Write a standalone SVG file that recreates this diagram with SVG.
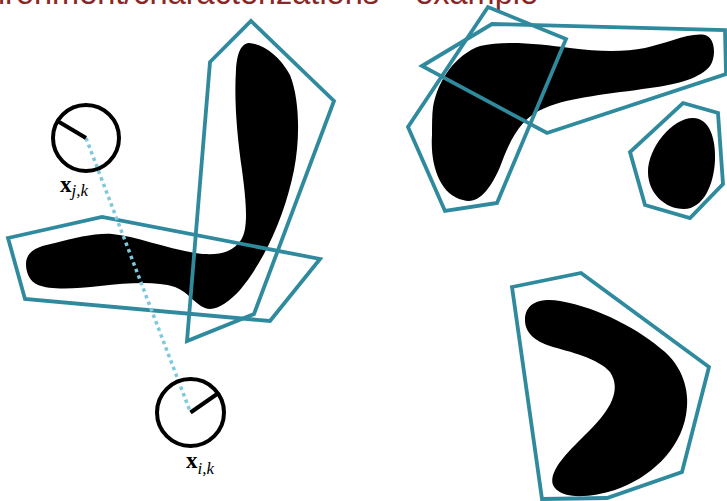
<svg xmlns="http://www.w3.org/2000/svg" width="727" height="501" viewBox="0 0 727 501">
<style>
.hull{fill:none;stroke:#2f8a9e;stroke-width:3.8;stroke-linejoin:miter}
.blob{fill:#000}
.ring{fill:none;stroke:#000;stroke-width:4}
.rad{stroke:#000;stroke-width:4}
.dots{stroke:#7ec8dc;stroke-width:3.5;stroke-dasharray:3.5 3.5;fill:none}
.lbl{font-family:"Liberation Serif","Times New Roman",serif;fill:#000}
.title{font-family:"Liberation Sans",Arial,sans-serif;font-size:32.5px;fill:#8b2626}
</style>
<rect width="727" height="501" fill="#fff"/>
<text class="title" x="538" y="4" text-anchor="end">Environment/characterizations – example</text>

<g id="shape-L">
<path class="blob" d="M26,264 C26,250 40,246 55,243 C75,238 95,233 112,234 C135,236 165,248 195,253 C215,256 232,254 241,240 C249,228 246,200 242,170 C237,135 234,100 236,70 C237,55 240,44 249,43 C263,44 280,56 290,75 C300,100 300,140 294,170 C285,215 265,260 240,290 C228,303 215,312 205,308 C195,304 188,292 175,287 C155,281 130,283 100,286 C75,289 50,290 38,285 C29,281 26,272 26,264 Z"/>
</g>
<g id="hull-horizontal"><polygon class="hull" points="8,238 102,217 320,259 270,321 25,299"/></g>
<g id="hull-vertical"><polygon class="hull" points="210,62 251,21 334,101 254,314 187,341"/></g>

<g id="shape-TR">
<path class="blob" d="M433,107 C438,80 455,55 480,46 C505,40 540,44 570,48 C600,52 625,52 645,48 C665,44 690,32 705,35 C716,38 716,58 710,66 C700,78 680,84 650,88 C610,94 570,97 545,108 C520,118 510,140 500,167 C490,190 478,205 463,200 C440,195 430,165 432,135 C432,125 432,115 433,107 Z"/>
</g>
<g id="hull-TR-left"><polygon class="hull" points="408,127 445,211 497,203 566,39 488,7"/></g>
<g id="hull-TR-arm"><polygon class="hull" points="422,66 492,24 725,30 726,74 547,133"/></g>

<g id="shape-small">
<path class="blob" d="M693,118 C710,118 716,140 715,160 C714,185 703,209 684,209 C665,209 648,193 648,172 C648,148 672,118 693,118 Z"/>
</g>
<g id="hull-small"><polygon class="hull" points="683,103 718,113 723,184 690,218 645,205 630,152"/></g>

<g id="shape-boomerang">
<path class="blob" d="M525,320 C525,300 545,298 560,301 C600,308 640,330 665,352 C685,370 690,395 686,415 C680,450 650,478 615,490 C590,498 560,500 553,485 C548,470 570,450 590,430 C610,410 622,390 610,372 C598,358 570,352 550,346 C535,341 525,333 525,320 Z"/>
</g>
<g id="hull-boomerang"><polygon class="hull" points="512,287 581,273 709,367 682,472 607,498 542,499"/></g>

<g id="connectors">
<line class="dots" x1="86" y1="138" x2="190.5" y2="412.5"/>
</g>

<g id="feature-j">
<circle class="ring" cx="86" cy="138" r="33"/>
<line class="rad" x1="86" y1="138" x2="57.5" y2="121"/>
<text class="lbl" x="60" y="192"><tspan font-weight="bold" font-size="23">x</tspan><tspan font-style="italic" font-size="17" dy="4">j,k</tspan></text>
</g>
<g id="feature-i">
<circle class="ring" cx="190.5" cy="412.5" r="33.5"/>
<line class="rad" x1="190.5" y1="412.5" x2="218.5" y2="393"/>
<text class="lbl" x="186" y="468"><tspan font-weight="bold" font-size="23">x</tspan><tspan font-style="italic" font-size="17" dy="6">i,k</tspan></text>
</g>
</svg>
